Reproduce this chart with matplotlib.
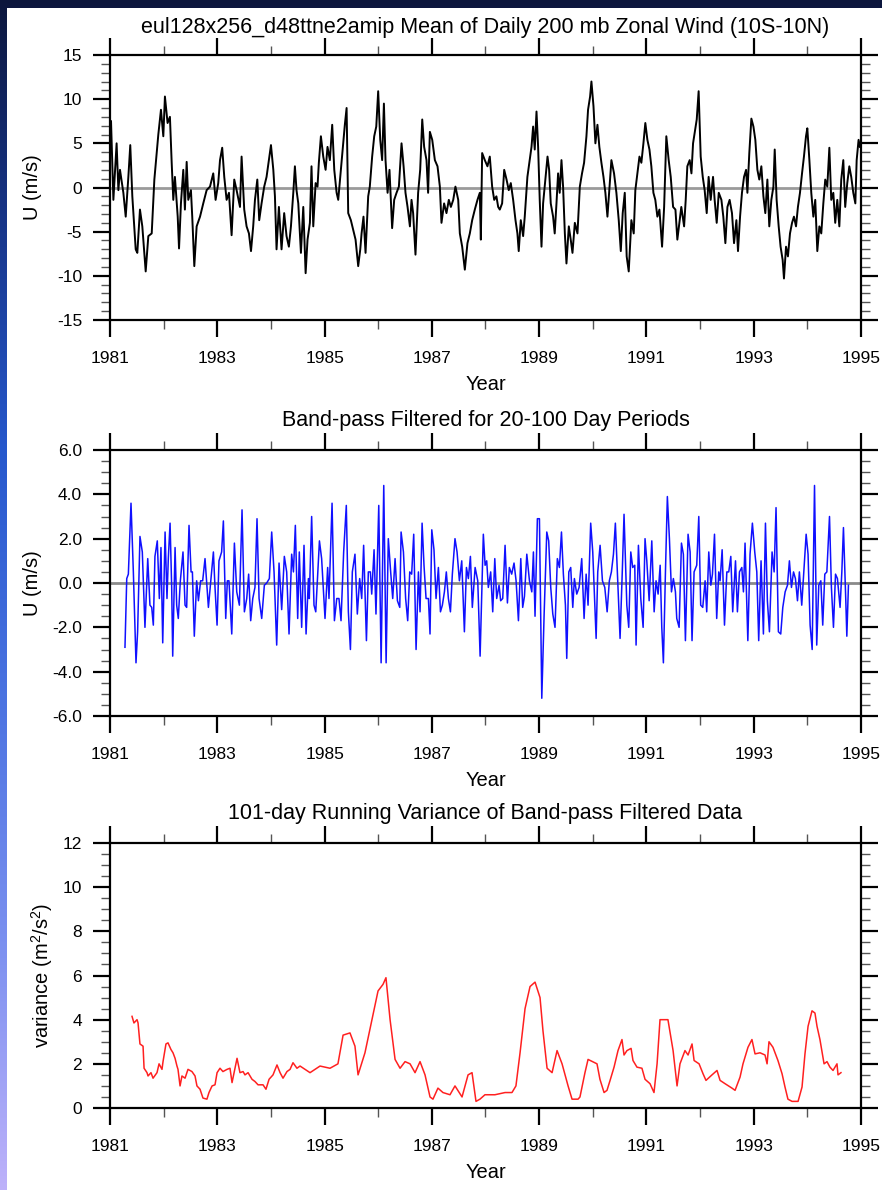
import numpy as np
import matplotlib
matplotlib.use('Agg')
import matplotlib.pyplot as plt
from matplotlib.ticker import MultipleLocator, FormatStrFormatter, FixedLocator
from matplotlib.patches import Rectangle

plt.rcParams['font.family'] = ['Liberation Sans', 'DejaVu Sans']
plt.rcParams['axes.unicode_minus'] = False
plt.rcParams['mathtext.default'] = 'regular'

# ---------------- data (days since 1981-01-01, values) ----------------
wind_day = [7, 23, 45, 57, 68, 91, 107, 125, 138, 152, 175, 186, 204, 220, 243, 261, 284, 302, 318, 329,
            347, 363, 374, 392, 408, 420, 431, 442, 461, 470, 483, 499, 510, 522, 533, 551, 560, 574, 590, 613,
            635, 658, 681, 703, 719, 737, 749, 764, 778, 794, 810, 828, 846, 862, 885, 896, 914, 930, 946, 960,
            975, 987, 1003, 1016, 1032, 1050, 1066, 1082, 1096, 1112, 1123, 1134, 1150, 1168, 1186, 1202, 1218, 1232, 1248, 1259,
            1270, 1282, 1300, 1316, 1332, 1345, 1361, 1372, 1384, 1400, 1413, 1422, 1436, 1452, 1468, 1481, 1497, 1513, 1527, 1543,
            1554, 1572, 1588, 1599, 1611, 1622, 1640, 1656, 1672, 1690, 1704, 1713, 1726, 1740, 1758, 1769, 1785, 1799, 1813, 1826,
            1840, 1853, 1865, 1876, 1890, 1903, 1921, 1935, 1951, 1967, 1985, 1999, 2012, 2026, 2042, 2053, 2064, 2080, 2098, 2112,
            2126, 2139, 2155, 2166, 2178, 2194, 2212, 2230, 2246, 2257, 2275, 2291, 2307, 2321, 2337, 2352, 2371, 2382, 2398, 2416,
            2434, 2450, 2466, 2484, 2502, 2518, 2525, 2534, 2552, 2570, 2586, 2602, 2616, 2631, 2643, 2654, 2670, 2684, 2700, 2715,
            2729, 2745, 2761, 2774, 2783, 2797, 2813, 2824, 2842, 2858, 2870, 2881, 2892, 2904, 2915, 2926, 2938, 2949, 2960, 2979,
            2990, 3001, 3017, 3028, 3040, 3051, 3062, 3074, 3085, 3097, 3108, 3124, 3137, 3149, 3165, 3183, 3199, 3214, 3228, 3244,
            3255, 3269, 3278, 3292, 3305, 3319, 3332, 3346, 3360, 3373, 3387, 3403, 3414, 3432, 3448, 3464, 3478, 3491, 3505, 3518,
            3532, 3550, 3566, 3577, 3591, 3605, 3618, 3632, 3645, 3659, 3673, 3686, 3700, 3713, 3727, 3741, 3759, 3773, 3788, 3804,
            3818, 3834, 3850, 3863, 3879, 3890, 3909, 3920, 3931, 3947, 3959, 3970, 3981, 3995, 4008, 4022, 4036, 4049, 4063, 4076,
            4090, 4106, 4117, 4131, 4145, 4163, 4176, 4190, 4204, 4219, 4235, 4249, 4265, 4276, 4290, 4303, 4317, 4331, 4340, 4353,
            4367, 4381, 4394, 4408, 4421, 4435, 4449, 4462, 4476, 4489, 4503, 4517, 4526, 4539, 4553, 4566, 4580, 4589, 4603, 4616,
            4630, 4644, 4657, 4671, 4684, 4698, 4712, 4725, 4739, 4748, 4762, 4775, 4789, 4802, 4816, 4830, 4843, 4857, 4870, 4884,
            4898, 4911, 4925, 4938, 4952, 4966, 4979, 4993, 5006, 5020, 5034, 5047, 5061, 5075, 5084, 5097, 5106]
wind_u = [7.5, -1.4, 5.0, -0.3, 2.0, -0.6, -3.3, 1.2, 4.8, -1.0, -7.0, -7.4, -2.5, -4.4, -9.5, -5.5, -5.2, 0.9, 3.9, 6.0,
          8.8, 5.8, 10.3, 7.3, 8.0, 2.8, -1.4, 1.2, -3.3, -6.9, -1.8, 2.0, -2.5, 2.9, -1.4, -0.3, -3.3, -8.9, -4.4, -3.3,
          -1.8, -0.3, 0.1, 1.6, -1.4, 0.5, 3.1, 4.5, 1.2, -1.4, -0.6, -5.4, 0.9, -0.3, -2.2, 3.5, -2.5, -4.4, -5.2, -7.2,
          -4.4, -1.4, 0.9, -3.7, -1.8, 0.1, 1.2, 3.1, 4.8, 2.0, -1.0, -7.0, -2.2, -7.0, -2.9, -5.5, -6.7, -4.4, -0.6, 2.4,
          -0.3, -1.8, -7.4, -2.2, -9.7, -5.9, -4.0, 2.4, -4.4, 0.5, 0.1, 2.8, 5.8, 3.5, 2.0, 4.6, 3.1, 7.1, 2.0, -0.6,
          -1.4, 2.0, 5.0, 7.1, 9.0, -2.9, -3.7, -4.8, -5.9, -8.9, -7.0, -5.2, -3.3, -7.4, -1.0, 0.1, 3.5, 5.8, 6.9, 10.9,
          5.4, 3.1, 9.5, 3.1, -0.6, 2.0, -4.6, -1.4, -0.6, 0.1, 5.0, 2.4, -0.6, -2.2, -4.4, -1.4, -2.9, -7.6, -0.6, 2.0,
          7.7, 4.6, 3.1, -0.6, 6.3, 5.4, 3.1, 2.4, 0.1, -4.0, -1.8, -2.9, -1.4, -2.2, -1.4, 0.1, -1.4, -5.2, -6.7, -9.3,
          -6.3, -5.2, -3.7, -2.5, -1.4, -0.6, -5.9, 3.9, 3.1, 2.4, 3.5, 0.1, -1.4, -1.0, -2.2, -2.5, -1.8, 2.0, 0.9, -0.3,
          0.5, -1.4, -3.7, -5.2, -7.2, -3.7, -5.5, -3.3, 1.2, 3.1, 4.6, 6.9, 4.3, 8.6, 4.6, -1.4, -6.7, -1.8, 0.1, 3.5,
          2.0, -1.8, -3.3, -5.2, -1.8, 1.6, -0.6, 3.1, 0.1, -5.2, -8.6, -4.4, -5.9, -7.4, -4.0, -5.2, 0.1, 1.6, 2.8, 5.8,
          8.8, 10.3, 12.0, 9.2, 5.0, 7.1, 4.6, 2.8, 1.2, -0.6, -3.3, 0.5, 3.1, 1.6, -0.6, -3.7, -7.2, -2.9, -0.6, -7.8,
          -9.5, -3.7, -5.2, -0.3, 1.6, 3.5, 2.8, 5.0, 7.3, 5.4, 4.3, 2.4, -0.6, -1.4, -3.3, -2.5, -6.7, -2.2, 5.8, 3.1,
          1.2, -2.2, -2.5, -5.9, -3.7, -2.2, -4.4, -1.4, 2.4, 3.1, 1.6, 5.0, 6.2, 7.7, 10.9, 3.5, 1.2, -0.3, -2.9, 1.2,
          -1.4, 1.2, -1.4, -4.0, -0.6, -1.4, -3.3, -6.3, -2.2, -1.4, -2.9, -6.3, -3.7, -7.2, -3.3, -0.6, 1.2, 2.0, -0.6, 3.9,
          7.8, 6.9, 5.4, 2.0, 0.9, 2.4, -1.0, -2.9, 0.9, -4.4, -1.4, 0.1, 4.3, -1.4, -4.4, -6.7, -8.2, -10.3, -6.7, -7.8,
          -5.2, -4.0, -3.3, -4.4, -2.2, -0.6, 1.6, 3.5, 5.8, 6.7, 3.1, -0.6, -3.3, -1.4, -7.2, -4.4, -5.2, -1.8, 0.9, 0.1,
          4.5, -1.4, -0.6, -4.0, -1.4, -4.4, 0.9, 3.1, -2.2, 0.5, 2.4, 1.2, -0.6, -1.8, 3.1, 5.4, 4.6]

bp_day = [102, 114, 125, 143, 159, 177, 188, 204, 220, 238, 257, 272, 284, 295, 306, 322, 336, 347, 359, 375,
          388, 397, 409, 420, 427, 443, 454, 465, 479, 497, 511, 522, 538, 552, 561, 574, 590, 602, 617, 631,
          647, 670, 688, 704, 715, 729, 742, 760, 772, 788, 799, 810, 829, 847, 863, 881, 899, 915, 931, 944,
          958, 972, 987, 1001, 1015, 1033, 1051, 1067, 1085, 1101, 1117, 1135, 1151, 1169, 1187, 1203, 1219, 1237, 1249, 1262,
          1278, 1289, 1305, 1321, 1335, 1351, 1357, 1373, 1389, 1401, 1426, 1441, 1464, 1482, 1491, 1512, 1528, 1544, 1559, 1573,
          1591, 1609, 1623, 1637, 1650, 1668, 1684, 1700, 1714, 1727, 1746, 1759, 1773, 1782, 1798, 1811, 1830, 1846, 1864, 1880,
          1895, 1911, 1925, 1941, 1957, 1973, 1982, 1998, 2013, 2027, 2041, 2054, 2068, 2084, 2100, 2111, 2125, 2138, 2152, 2168,
          2179, 2191, 2206, 2220, 2236, 2250, 2263, 2277, 2290, 2304, 2318, 2331, 2349, 2363, 2379, 2395, 2413, 2427, 2440, 2454,
          2467, 2486, 2504, 2520, 2542, 2554, 2565, 2576, 2592, 2606, 2620, 2633, 2649, 2660, 2674, 2690, 2706, 2719, 2735, 2751,
          2765, 2781, 2797, 2810, 2822, 2838, 2856, 2872, 2883, 2894, 2910, 2924, 2940, 2956, 2974, 2987, 3001, 3015, 3030, 3046,
          3060, 3074, 3087, 3101, 3110, 3124, 3137, 3151, 3162, 3178, 3194, 3212, 3228, 3242, 3255, 3273, 3287, 3310, 3321, 3337,
          3353, 3369, 3385, 3400, 3414, 3428, 3441, 3457, 3473, 3489, 3500, 3519, 3532, 3546, 3559, 3573, 3582, 3598, 3614, 3630,
          3643, 3655, 3671, 3689, 3705, 3718, 3732, 3746, 3757, 3768, 3782, 3795, 3809, 3823, 3836, 3850, 3859, 3875, 3891, 3904,
          3918, 3936, 3950, 3963, 3977, 3995, 4009, 4022, 4036, 4052, 4063, 4077, 4091, 4102, 4116, 4131, 4145, 4154, 4168, 4184,
          4200, 4213, 4227, 4240, 4259, 4272, 4286, 4302, 4313, 4324, 4343, 4358, 4374, 4390, 4404, 4417, 4433, 4449, 4463, 4476,
          4490, 4508, 4522, 4535, 4551, 4567, 4581, 4597, 4613, 4626, 4640, 4654, 4667, 4681, 4694, 4710, 4726, 4740, 4753, 4767,
          4781, 4797, 4812, 4826, 4840, 4853, 4867, 4881, 4899, 4912, 4926, 4940, 4953, 4971, 4983, 4994, 5010, 5017, 5028]
bp_u = [-2.9, 0.2, 0.4, 3.6, 0.5, -3.6, -2.2, 2.1, 1.4, -2.0, 1.1, -1.0, -1.1, -1.9, 1.2, 1.9, -0.7, 1.6, -2.7, 2.3,
        -0.7, 1.1, 2.7, -0.2, -3.3, 1.6, -1.0, -1.6, 0.1, 1.4, -1.0, -1.1, 2.6, 0.5, 0.5, -2.4, 0.1, -0.8, 0.1, 0.1,
        1.1, -1.1, 0.2, 1.4, -0.2, -1.9, 1.0, 1.4, 2.8, -1.6, 0.1, 0.1, -2.3, 1.8, -0.4, -1.0, 3.3, -1.3, -0.7, 0.4,
        -1.7, -0.7, -0.2, 2.9, -0.7, -1.6, -0.1, 0.0, 0.2, 2.3, 0.5, -2.8, 0.9, -1.2, 1.2, 0.5, -2.3, 1.3, 0.5, 2.6,
        -1.6, 1.4, -2.0, 1.7, -2.3, 0.2, -0.7, 3.0, -1.0, -1.3, 1.9, 1.1, -1.6, 0.7, -0.7, 3.6, -1.7, -0.7, -0.7, -1.7,
        1.4, 3.5, -1.3, -3.0, 0.5, 1.3, -1.4, 0.2, -0.7, 1.7, -2.6, 0.5, 0.5, -0.5, 1.5, -1.4, 3.5, -3.6, 4.4, -3.6,
        2.0, 0.5, -0.7, 1.1, -0.8, -1.1, 2.3, 1.4, -0.7, -1.7, 0.5, 0.4, 2.2, -3.0, 0.5, -1.3, 2.7, 0.8, -0.7, -0.7,
        -2.3, 2.4, 1.5, -0.7, 0.7, -1.3, -1.0, -0.4, 0.5, -0.7, -1.3, 0.4, 2.0, 1.4, 0.1, 1.0, -2.2, 0.7, 0.2, 1.2,
        -1.1, 0.7, 0.1, -3.3, 2.2, 0.8, 1.0, -0.2, 0.5, -1.3, 1.1, -0.7, -0.1, -0.8, -0.7, 1.7, -0.9, 0.7, 0.4, 0.9,
        0.1, -1.7, 1.1, -1.1, -0.6, 1.3, 0.1, -0.4, 1.4, -1.5, 2.9, 2.9, -5.2, -1.4, 2.3, 1.9, -0.2, -1.4, -2.0, 1.1,
        0.7, 2.3, 0.4, -1.0, -3.4, 0.5, 0.7, -1.1, 0.2, -0.5, -0.2, 1.1, -1.6, 0.4, -1.0, 2.7, 1.4, -2.5, 0.5, 1.7,
        0.1, -0.2, -1.3, 0.1, 0.5, 1.3, 2.7, 0.1, -2.5, 0.7, 3.1, -1.0, -2.0, 1.4, 0.7, 0.8, -2.8, 1.7, -0.7, -2.0,
        2.0, 1.0, -0.8, 1.9, -1.3, 0.1, -0.5, 0.8, -2.0, -3.6, 0.5, 3.9, 2.0, -0.4, 0.2, -0.4, -1.6, -2.0, 1.8, 1.3,
        -2.6, 2.2, 1.4, -2.6, 0.5, 0.8, 3.0, -1.0, -1.1, 0.1, -1.3, 1.4, -0.1, 0.4, 2.2, -1.6, 0.5, 0.1, 1.5, -1.9,
        0.5, 0.5, 1.2, -1.3, 1.0, -1.3, 0.5, 0.7, -0.4, 1.8, -2.6, 1.3, 2.7, 1.4, 0.5, -2.6, 1.0, -2.3, 2.7, -0.8,
        -2.2, 1.4, 0.5, 3.4, -2.2, -2.3, -1.1, -0.4, -0.1, 1.0, -0.2, 0.5, 0.2, -0.8, 0.5, -1.0, 0.7, 2.2, 1.3, -1.9,
        -3.0, 4.4, -2.8, -0.1, 0.1, -1.9, 0.4, 0.5, 3.0, -0.2, -2.0, 0.4, 0.2, -1.1, 0.5, 2.5, -0.8, -2.4, -0.1]

var_day = [150, 163, 184, 191, 204, 225, 232, 252, 259, 279, 293, 320, 334, 354, 361, 381, 395, 415, 429, 443,
           456, 463, 477, 490, 511, 531, 558, 579, 592, 613, 633, 660, 674, 695, 715, 729, 749, 769, 797, 817,
           831, 851, 865, 885, 906, 919, 940, 967, 987, 1008, 1042, 1062, 1083, 1110, 1137, 1158, 1178, 1205, 1226, 1246,
           1273, 1294, 1362, 1430, 1498, 1552, 1587, 1634, 1668, 1689, 1736, 1784, 1825, 1859, 1879, 1907, 1941, 1975, 2009, 2043,
           2077, 2111, 2145, 2179, 2199, 2233, 2267, 2315, 2349, 2397, 2438, 2465, 2492, 2519, 2553, 2621, 2690, 2737, 2764, 2792,
           2826, 2860, 2894, 2928, 2948, 2976, 3010, 3044, 3078, 3119, 3146, 3187, 3200, 3234, 3255, 3316, 3336, 3364, 3384, 3405,
           3432, 3459, 3486, 3500, 3520, 3548, 3561, 3588, 3622, 3643, 3677, 3704, 3725, 3745, 3799, 3834, 3861, 3881, 3915, 3936,
           3963, 3977, 4011, 4038, 4058, 4099, 4133, 4154, 4188, 4235, 4256, 4290, 4310, 4344, 4371, 4392, 4426, 4460, 4474, 4487,
           4514, 4548, 4576, 4596, 4616, 4644, 4685, 4712, 4732, 4753, 4780, 4800, 4814, 4834, 4862, 4882, 4902, 4923, 4950, 4957,
           4977]
var_v = [4.15, 3.85, 4.0, 3.85, 2.9, 2.8, 1.8, 1.6, 1.45, 1.6, 1.35, 1.6, 2.0, 1.75, 2.1, 2.9, 2.95, 2.65, 2.5, 2.25,
         1.9, 1.75, 1.0, 1.45, 1.35, 1.75, 1.65, 1.45, 1.0, 0.85, 0.45, 0.4, 0.7, 1.0, 1.05, 1.6, 1.8, 1.65, 1.75, 1.8,
         1.15, 1.8, 2.25, 1.6, 1.65, 1.5, 1.6, 1.3, 1.2, 1.05, 1.05, 0.85, 1.3, 1.5, 1.95, 1.6, 1.35, 1.65, 1.75, 2.05,
         1.8, 1.9, 1.6, 1.9, 1.8, 2.0, 3.3, 3.4, 2.8, 1.5, 2.5, 4.0, 5.3, 5.6, 5.9, 4.0, 2.2, 1.8, 2.1, 2.0,
         1.6, 2.1, 1.5, 0.5, 0.4, 0.9, 0.7, 0.6, 1.0, 0.5, 1.5, 1.6, 0.3, 0.4, 0.6, 0.6, 0.7, 0.7, 1.0, 2.5,
         4.5, 5.5, 5.7, 5.0, 3.5, 1.8, 1.6, 2.6, 2.0, 1.0, 0.4, 0.4, 0.5, 1.6, 2.2, 2.0, 1.3, 0.7, 0.8, 1.25,
         1.85, 2.6, 3.1, 2.4, 2.6, 2.7, 2.15, 1.85, 1.8, 1.3, 1.1, 0.7, 2.0, 4.0, 4.0, 2.6, 1.0, 2.0, 2.6, 2.4,
         2.9, 2.15, 2.0, 1.55, 1.25, 1.5, 1.7, 1.25, 1.1, 0.9, 0.8, 1.4, 2.0, 2.75, 3.1, 2.45, 2.5, 2.4, 2.0, 3.0,
         2.75, 2.15, 1.55, 0.95, 0.4, 0.3, 0.3, 0.95, 2.45, 3.7, 4.4, 4.3, 3.7, 3.1, 2.0, 2.1, 1.85, 1.7, 2.0, 1.5,
         1.6]

year_ticks = [1981, 1983, 1985, 1987, 1989, 1991, 1993, 1995]
year_minor = [1982, 1984, 1986, 1988, 1990, 1992, 1994]
titles = ["eul128x256_d48ttne2amip Mean of Daily 200 mb Zonal Wind (10S-10N)",
          "Band-pass Filtered for 20-100 Day Periods",
          "101-day Running Variance of Band-pass Filtered Data"]
ylabels = ["U (m/s)", "U (m/s)", "variance (m$^2$/s$^2$)"]

# ---------------- figure ----------------
W, H = 882, 1190
fig = plt.figure(figsize=(W / 100, H / 100), dpi=100)

# slide-like gradient background
bg = fig.add_axes([0, 0, 1, 1], zorder=-10)
gy = np.arange(H)
sy = [0, 200, 450, 700, 950, 1190]
sc = np.array([[12, 22, 60], [22, 50, 130], [38, 88, 205], [75, 115, 225], [125, 145, 240], [190, 178, 250]]) / 255.0
grad = np.stack([np.interp(gy, sy, sc[:, k]) for k in range(3)], axis=1)
bg.imshow(grad[:, None, :], aspect='auto', extent=[0, 1, 0, 1])
bg.set_axis_off()
fig.patches.append(Rectangle((7 / W, 0), 1 - 7 / W, 1 - 8 / H, transform=fig.transFigure,
                             facecolor='white', edgecolor='none', zorder=-5))


def rect(l, t, r, b):
    return [l / W, 1 - b / H, (r - l) / W, (b - t) / H]


def style(ax, ymin, ymax, ymaj, ymin_step, fmt):
    ax.set_xlim(1981, 1995)
    ax.set_ylim(ymin, ymax)
    ax.xaxis.set_major_locator(FixedLocator(year_ticks))
    ax.xaxis.set_minor_locator(FixedLocator(year_minor))
    ax.yaxis.set_major_locator(MultipleLocator(ymaj))
    ax.yaxis.set_minor_locator(MultipleLocator(ymin_step))
    ax.yaxis.set_major_formatter(FormatStrFormatter(fmt))
    ax.xaxis.set_major_formatter(FormatStrFormatter('%d'))
    ax.tick_params(which='major', direction='out', length=12, width=1.6, top=True, right=True,
                   labeltop=False, labelright=False, labelsize=12.5, colors='black')
    ax.tick_params(axis='x', which='major', pad=10)
    ax.tick_params(axis='y', which='major', pad=8)
    ax.tick_params(which='minor', direction='out', length=6.5, width=1.0, top=True, right=True,
                   color='#555555')
    for s in ax.spines.values():
        s.set_linewidth(1.6)
    ax.set_facecolor('white')


panels = [(55, 320), (450, 716), (843, 1108)]
title_y = [27, 420, 813]
xlabel_y = [385, 780, 1173]
ylabel_x = [33, 33, 42]

ax1 = fig.add_axes(rect(110, 55, 861, 320))
yr = 1981 + np.asarray(wind_day) / 365.25
ax1.axhline(0, color='#9a9a9a', lw=2.0, zorder=1)
ax1.plot(yr, wind_u, color='black', lw=1.4, zorder=2)
style(ax1, -15, 15, 5, 1, '%d')

ax2 = fig.add_axes(rect(110, 450, 861, 716))
yr2 = 1981 + np.asarray(bp_day) / 365.25
ax2.axhline(0, color='#8a8a8a', lw=2.0, zorder=1)
ax2.plot(yr2, bp_u, color='#1010ff', lw=1.1, zorder=2)
style(ax2, -6, 6, 2, 0.5, '%.1f')

ax3 = fig.add_axes(rect(110, 843, 861, 1108))
yr3 = 1981 + np.asarray(var_day) / 365.25
ax3.plot(yr3, var_v, color='#ff2020', lw=1.1, zorder=2)
style(ax3, 0, 12, 2, 0.5, '%d')

for i in range(3):
    fig.text(485.5 / W, 1 - title_y[i] / H, titles[i], ha='center', va='center', fontsize=15.5)
    fig.text(485.5 / W, 1 - xlabel_y[i] / H, "Year", ha='center', va='center', fontsize=14.5)
    top, bot = panels[i]
    fig.text(ylabel_x[i] / W, 1 - (top + bot) / 2 / H, ylabels[i], ha='center', va='center',
             rotation=90, fontsize=14.5)

fig.savefig('out.png', dpi=100)
